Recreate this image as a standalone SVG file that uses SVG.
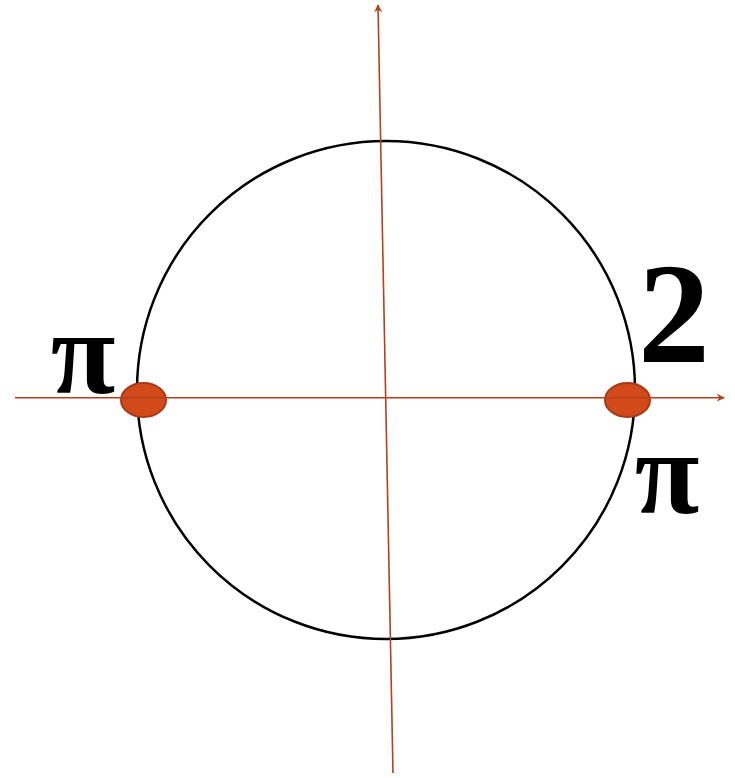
<svg xmlns="http://www.w3.org/2000/svg" width="735" height="778" viewBox="0 0 735 778">
<style>
.axis{stroke:#b5401c;stroke-width:1.6;fill:none}
.dot{fill:#d34a1a;stroke:#a8381a;stroke-width:2}
.lbl{font-family:"Liberation Serif","DejaVu Serif",serif;font-weight:bold;fill:#000}
</style>
<defs>
<marker id="arr" viewBox="0 0 10 10" refX="9" refY="5" markerWidth="8" markerHeight="8" markerUnits="userSpaceOnUse" orient="auto">
<path d="M0,0 L10,5 L0,10 L3,5 Z" fill="#b5401c"/>
</marker>
</defs>
<rect width="735" height="778" fill="#fff"/>
<g id="circle"><circle cx="386" cy="390" r="249" fill="none" stroke="#000" stroke-width="2.5"/></g>
<g id="connectors">
<line class="axis" x1="15" y1="397.7" x2="724" y2="397.7" marker-end="url(#arr)"/>
<line class="axis" x1="393" y1="773" x2="378" y2="5" marker-end="url(#arr)"/>
</g>
<g id="dot-left"><ellipse class="dot" cx="143.5" cy="400" rx="22.5" ry="17"/><line class="axis" x1="121" y1="397.7" x2="166" y2="397.7"/></g>
<g id="dot-right"><ellipse class="dot" cx="627.5" cy="400" rx="22.5" ry="17"/><line class="axis" x1="605" y1="397.7" x2="650" y2="397.7"/></g>
<g id="label-pi-left"><text class="lbl" x="83" y="393" font-size="118" text-anchor="middle">π</text></g>
<g id="label-2"><text class="lbl" x="674" y="362" font-size="144" text-anchor="middle">2</text></g>
<g id="label-pi-right"><text class="lbl" x="667" y="513" font-size="118" text-anchor="middle">π</text></g>
</svg>
